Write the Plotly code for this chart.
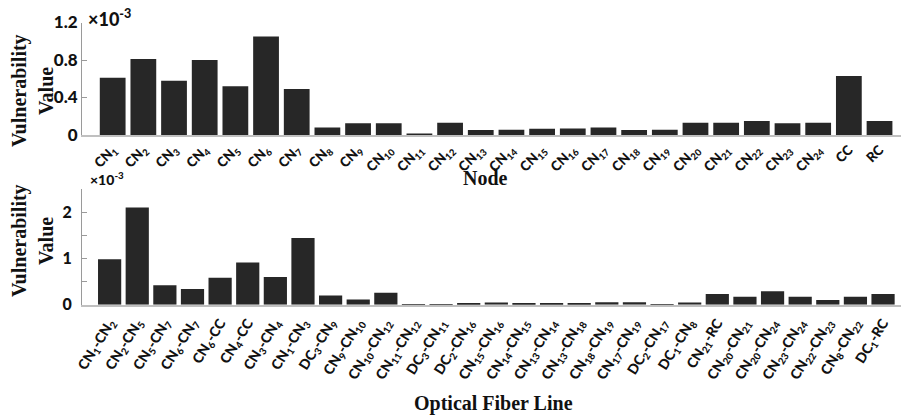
import plotly.graph_objects as go

# ---- data ----
node_labels = ["CN<sub>%d</sub>" % i for i in range(1, 25)] + ["CC", "RC"]
node_values = [0.61, 0.81, 0.58, 0.80, 0.52, 1.05, 0.49, 0.08, 0.125, 0.125,
               0.015, 0.13, 0.053, 0.055, 0.067, 0.07, 0.08, 0.053, 0.055, 0.13,
               0.13, 0.15, 0.125, 0.13, 0.63, 0.15]

line_labels = [
    "CN<sub>1</sub>-CN<sub>2</sub>", "CN<sub>2</sub>-CN<sub>5</sub>", "CN<sub>5</sub>-CN<sub>7</sub>",
    "CN<sub>6</sub>-CN<sub>7</sub>", "CN<sub>6</sub>-CC", "CN<sub>4</sub>-CC",
    "CN<sub>3</sub>-CN<sub>4</sub>", "CN<sub>1</sub>-CN<sub>3</sub>", "DC<sub>3</sub>-CN<sub>9</sub>",
    "CN<sub>9</sub>-CN<sub>10</sub>", "CN<sub>10</sub>-CN<sub>12</sub>", "CN<sub>11</sub>-CN<sub>12</sub>",
    "DC<sub>3</sub>-CN<sub>11</sub>", "DC<sub>2</sub>-CN<sub>16</sub>", "CN<sub>15</sub>-CN<sub>16</sub>",
    "CN<sub>14</sub>-CN<sub>15</sub>", "CN<sub>13</sub>-CN<sub>14</sub>", "CN<sub>13</sub>-CN<sub>18</sub>",
    "CN<sub>18</sub>-CN<sub>19</sub>", "CN<sub>17</sub>-CN<sub>19</sub>", "DC<sub>2</sub>-CN<sub>17</sub>",
    "DC<sub>1</sub>-CN<sub>8</sub>", "CN<sub>21</sub>-RC", "CN<sub>20</sub>-CN<sub>21</sub>",
    "CN<sub>20</sub>-CN<sub>24</sub>", "CN<sub>23</sub>-CN<sub>24</sub>", "CN<sub>22</sub>-CN<sub>23</sub>",
    "CN<sub>8</sub>-CN<sub>22</sub>", "DC<sub>1</sub>-RC",
]
line_values = [0.98, 2.10, 0.42, 0.34, 0.58, 0.91, 0.60, 1.44, 0.20, 0.11,
               0.26, 0.01, 0.01, 0.035, 0.045, 0.02, 0.02, 0.025, 0.055, 0.055,
               0.015, 0.045, 0.23, 0.17, 0.29, 0.17, 0.10, 0.17, 0.23]

top_ticks = [0, 0.4, 0.8, 1.2]
top_ticktext = ["0", "0.4", "0.8", "1.2"]
bot_ticks = [0, 1, 2]
bot_ticktext = ["0", "1", "2"]
bot_minor = [0.5, 1.5, 2.5]

BAR = "#272727"
AX = "#9a9a9a"
H = 417.0
W = 901.0

def py(px):
    return 1 - px / H

def pxx(px):
    return px / W

fig = go.Figure()
fig.add_trace(go.Bar(x=node_labels, y=node_values, marker=dict(color=BAR, line=dict(width=0)),
                     xaxis="x", yaxis="y", showlegend=False))
fig.add_trace(go.Bar(x=line_labels, y=line_values, marker=dict(color=BAR, line=dict(width=0)),
                     xaxis="x2", yaxis="y2", showlegend=False))

tickfont = dict(family="Lato", size=13.5, color="#111111", weight=900)
tickfont2 = dict(family="Lato", size=14, color="#111111", weight=900)
ytickfont = dict(family="Lato", size=17, color="#111111", weight=900)

fig.update_layout(
    width=901, height=417,
    margin=dict(l=0, r=0, t=0, b=0),
    paper_bgcolor="white", plot_bgcolor="white",
    bargap=0.16,
    xaxis=dict(domain=[pxx(82), 1], anchor="y", type="category", range=[-1, 25.7],
               showline=True, linecolor="#c0c0c0", linewidth=1.5, ticks="", tickangle=-45,
               tickfont=tickfont, showgrid=False, zeroline=False, automargin=False,
               ticklabelstandoff=0),
    yaxis=dict(domain=[py(135), py(22.5)], anchor="x", range=[0, 1.2],
               tickvals=top_ticks, ticktext=top_ticktext, ticks="inside", ticklen=5,
               tickcolor=AX, showline=True, linecolor=AX, linewidth=1,
               tickfont=ytickfont, showgrid=False, zeroline=False, automargin=False),
    xaxis2=dict(domain=[pxx(82), 1], anchor="y2", type="category", range=[-1, 28.65],
                showline=True, linecolor="#c0c0c0", linewidth=1.5, ticks="", tickangle=-58,
                tickfont=tickfont2, showgrid=False, zeroline=False, automargin=False,
                ticklabelstandoff=3),
    yaxis2=dict(domain=[py(304.7), py(189)], anchor="x2", range=[0, 2.5],
                tickvals=bot_ticks, ticktext=bot_ticktext, ticks="inside", ticklen=5,
                tickcolor=AX, showline=True, linecolor=AX, linewidth=1,
                minor=dict(tickvals=bot_minor, ticks="inside", ticklen=5, tickcolor=AX),
                tickfont=dict(family="Lato", size=16, color="#111111", weight=900),
                showgrid=False, zeroline=False, automargin=False,
                ticklabelstandoff=6),
)

serif = dict(family="Liberation Serif", size=20, color="#111111", weight="bold")
ann = []
# y titles
for yc in (py(91), py(241)):
    ann.append(dict(text="Vulnerability", x=pxx(20), y=yc, xref="paper", yref="paper",
                    textangle=-90, showarrow=False, font=serif, xanchor="center", yanchor="middle"))
    ann.append(dict(text="Value", x=pxx(46), y=yc, xref="paper", yref="paper",
                    textangle=-90, showarrow=False, font=serif, xanchor="center", yanchor="middle"))
# x titles
ann.append(dict(text="Node", x=pxx(485), y=py(178), xref="paper", yref="paper",
                showarrow=False, font=serif, xanchor="center", yanchor="middle"))
ann.append(dict(text="Optical Fiber Line", x=pxx(493), y=py(403), xref="paper", yref="paper",
                showarrow=False, font=serif, xanchor="center", yanchor="middle"))
# exponent labels
ann.append(dict(text="×10<sup>-3</sup>", x=pxx(86), y=py(18), xref="paper", yref="paper",
                showarrow=False, font=dict(family="Lato", size=18, color="#111111", weight=900),
                xanchor="left", yanchor="middle"))
ann.append(dict(text="×10<sup>-3</sup>", x=pxx(88), y=py(178), xref="paper", yref="paper",
                showarrow=False, font=dict(family="Lato", size=14, color="#111111", weight=900),
                xanchor="left", yanchor="middle"))
fig.update_layout(annotations=ann)

fig.write_html("out.html", config={"displayModeBar": False},
               post_script="document.body.style.margin='0';document.body.style.overflow='hidden';")
